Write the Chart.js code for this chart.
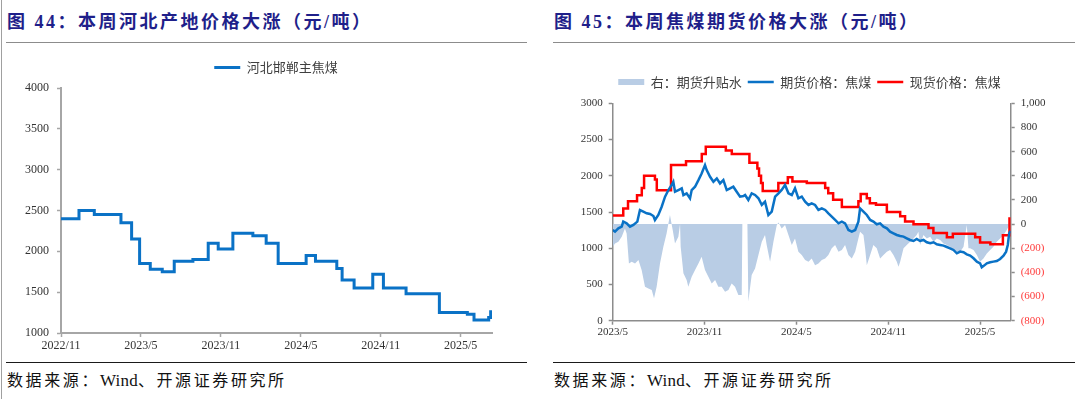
<!DOCTYPE html>
<html>
<head>
<meta charset="utf-8">
<script src="https://cdn.jsdelivr.net/npm/chart.js@4.4.1/dist/chart.umd.min.js"></script>
<style>
  html, body { margin: 0; padding: 0; background: #fff; }
  body { width: 1080px; height: 399px; position: relative; overflow: hidden;
         font-family: "Liberation Serif", "Noto Sans CJK SC", serif; }
  .title { position: absolute; top: 10px; line-height: 24px; font-size: 18px; font-weight: bold;
           color: #1f1f8a; letter-spacing: 2.5px; white-space: nowrap; }
  .rule { position: absolute; height: 0; }
  .src { position: absolute; top: 370px; line-height: 22px; font-size: 16px; color: #111;
         letter-spacing: 2.6px; white-space: nowrap; }
  .src span { letter-spacing: 0.2px; font-size: 17px; }
  canvas { position: absolute; }
</style>
</head>
<body>
<div style="position:absolute;left:1px;top:0;width:0;height:399px;border-left:1px solid #a0a0a0"></div>

<div class="title" style="left:7px">图 44：本周河北产地价格大涨（元/吨）</div>
<div class="title" style="left:554px">图 45：本周焦煤期货价格大涨（元/吨）</div>
<div class="rule" style="left:6px;top:42px;width:521px;border-top:1.5px solid #8c8c8c"></div>
<div class="rule" style="left:553px;top:42px;width:522px;border-top:1.5px solid #8c8c8c"></div>

<canvas id="hebei" width="520" height="310" style="left:0;top:50px"></canvas>
<canvas id="coking" width="535" height="310" style="left:545px;top:50px"></canvas>

<div class="rule" style="left:6px;top:362px;width:521px;border-top:1.5px solid #1a1a1a"></div>
<div class="rule" style="left:553px;top:362px;width:522px;border-top:1.5px solid #1a1a1a"></div>
<div class="src" style="left:7px">数据来源：<span>Wind</span>、开源证券研究所</div>
<div class="src" style="left:554px">数据来源：<span>Wind</span>、开源证券研究所</div>

<script>
// ---------- 图44 data: months since 2022/11, price holds until next change ----------
const hbTickMonths = [0, 6, 12, 18, 24, 30];
const hbTickLabels = ['2022/11', '2023/5', '2023/11', '2024/5', '2024/11', '2025/5'];
const hbMonths = [0, 1.35, 2.5, 4.5, 5.3, 5.9, 6.7, 7.6, 8.5, 9.9, 11.05, 11.8, 12.9, 14.4, 15.4,
                  16.3, 18.4, 19.1, 20.7, 21.1, 22.0, 23.4, 24.2, 25.9, 28.4, 30.5, 31.0, 32.1, 32.25, 32.35];
const hbPrice  = [2400, 2500, 2450, 2350, 2150, 1850, 1780, 1750, 1880, 1900, 2100, 2030, 2220, 2190, 2100,
                  1850, 1950, 1880, 1790, 1650, 1550, 1720, 1550, 1480, 1250, 1230, 1160, 1190, 1260, 1260];

// ---------- 图45 data: months since 2023/5 ----------
const cokTickMonths = [0, 6, 12, 18, 24];
const cokTickLabels = ['2023/5', '2023/11', '2024/5', '2024/11', '2025/5'];

// 现货价格：焦煤 (step changes)
const spotMonths = [0, 0.69, 1.0, 1.59, 1.9, 2.05, 2.76, 2.88, 3.81, 4.79, 5.82, 6.08, 7.39, 7.78, 8.93,
                    9.45, 9.56, 9.69, 9.8, 10.82, 11.44, 11.74, 12.68, 13.88, 14.08, 14.4, 14.97, 16.05, 16.2,
                    16.6, 16.8, 17.2, 17.91, 18.78, 19.1, 19.65, 20.63, 20.95, 21.83, 22.22, 23.68, 24.0,
                    24.67, 25.49, 25.92, 26.0];
const spotPrice  = [1450, 1550, 1650, 1730, 1830, 2000, 1950, 1800, 2150, 2200, 2300, 2400, 2350, 2300, 2180,
                    2100, 2000, 1900, 1790, 1900, 1980, 1920, 1900, 1830, 1760, 1670, 1570, 1650, 1750,
                    1690, 1620, 1600, 1500, 1440, 1370, 1330, 1280, 1210, 1150, 1200, 1150, 1080,
                    1055, 1180, 1410, 1410];

// 期货价格：焦煤 [month, price]
const futures = [
  [0,1252],[0.15,1230],[0.37,1275],[0.59,1298],[0.69,1367],[0.91,1344],[1.13,1298],[1.35,1321],[1.61,1367],
  [1.78,1527],[2.0,1505],[2.22,1482],[2.44,1472],[2.66,1445],[2.76,1390],[2.98,1459],[3.2,1573],[3.42,1711],
  [3.64,1803],[3.85,1872],[3.96,1917],[4.07,1780],[4.29,1803],[4.51,1826],[4.62,1734],[4.83,1757],[5.05,1688],
  [5.16,1803],[5.38,1849],[5.6,1940],[5.81,2032],[6.03,2147],[6.14,2078],[6.36,1986],[6.58,1917],[6.8,1963],
  [7.01,1894],[7.23,1940],[7.45,1803],[7.67,1826],[7.88,1849],[8.1,1780],[8.32,1711],[8.54,1720],[8.65,1735],
  [8.86,1666],[9.08,1758],[9.3,1735],[9.52,1689],[9.74,1597],[9.95,1643],[10.17,1459],[10.39,1505],[10.61,1712],
  [10.83,1758],[11.04,1804],[11.26,1873],[11.48,1758],[11.7,1735],[11.91,1827],[12.13,1689],[12.35,1712],
  [12.57,1643],[12.79,1597],[13.0,1620],[13.22,1597],[13.44,1528],[13.66,1551],[13.88,1528],[14.09,1482],
  [14.31,1436],[14.53,1390],[14.75,1344],[14.97,1367],[15.18,1344],[15.4,1252],[15.62,1229],[15.84,1252],
  [16.05,1367],[16.16,1551],[16.38,1505],[16.6,1459],[16.82,1390],[17.03,1367],[17.25,1330],[17.47,1344],
  [17.69,1298],[17.91,1275],[18.12,1229],[18.34,1206],[18.56,1183],[18.78,1169],[19.0,1160],[19.21,1137],
  [19.43,1114],[19.65,1100],[19.86,1128],[20.08,1100],[20.3,1114],[20.52,1082],[20.74,1068],[20.96,1082],
  [21.17,1054],[21.39,1045],[21.61,1036],[21.83,1017],[22.04,999],[22.26,976],[22.48,930],[22.7,953],
  [22.92,944],[23.13,916],[23.35,898],[23.57,861],[23.79,815],[24.0,792],[24.11,737],[24.26,760],[24.44,792],
  [24.66,806],[24.87,815],[25.09,824],[25.31,852],[25.53,898],[25.7,953],[25.81,1045],[25.9,1206],[25.98,1240]
];

// 右：期货升贴水 [month, value]
const basis = [
  [0,-188],[0.15,-160],[0.37,-146],[0.59,-105],[0.8,-36],[0.91,-77],[1.06,-326],[1.24,-312],[1.46,-326],
  [1.68,-298],[1.89,-381],[2.11,-519],[2.33,-533],[2.55,-546],[2.7,-615],[2.87,-519],[3.09,-326],[3.31,-188],
  [3.52,-77],[3.74,75],[3.92,-50],[4.07,-160],[4.29,-105],[4.4,0],[4.44,-188],[4.62,-408],[4.83,-464],
  [4.94,-519],[5.16,-436],[5.38,-381],[5.6,-326],[5.81,-270],[6.03,-381],[6.25,-436],[6.47,-491],[6.69,-464],
  [6.9,-519],[7.12,-519],[7.34,-560],[7.56,-546],[7.77,-491],[7.99,-519],[8.21,-588],[8.43,-588],[8.47,0],
  [8.8,0],[8.86,-640],[9.08,-422],[9.3,-367],[9.52,-257],[9.74,-146],[9.95,-91],[10.06,-174],[10.28,-312],
  [10.5,-146],[10.72,-8],[10.83,14],[11.04,-36],[11.26,-8],[11.48,-91],[11.7,-174],[11.91,-119],[12.13,-229],
  [12.35,-257],[12.57,-298],[12.79,-312],[13.0,-284],[13.22,-340],[13.44,-326],[13.66,-298],[13.88,-284],
  [14.09,-257],[14.31,-201],[14.53,-174],[14.75,-229],[14.97,-215],[15.18,-174],[15.4,-257],[15.62,-284],
  [15.84,-229],[16.05,-119],[16.16,-63],[16.38,-91],[16.49,-201],[16.6,-340],[16.82,-257],[17.03,-174],
  [17.25,-201],[17.47,-284],[17.69,-257],[17.91,-229],[18.12,-215],[18.34,-257],[18.56,-312],[18.67,-353],
  [18.78,-312],[19.0,-201],[19.21,-174],[19.43,-146],[19.65,-119],[19.86,-91],[19.97,-63],[20.08,-174],
  [20.3,-91],[20.52,-119],[20.74,-105],[20.96,-146],[21.17,-119],[21.39,-132],[21.61,-160],[21.83,-174],
  [22.04,-188],[22.26,-215],[22.48,-229],[22.7,-229],[22.92,-188],[23.13,-8],[23.24,-201],[23.35,-201],
  [23.57,-215],[23.79,-257],[24.0,-312],[24.22,-284],[24.44,-243],[24.66,-215],[24.87,-188],[25.09,-146],
  [25.31,-119],[25.53,-91],[25.74,-50],[25.92,-8]
];

// ---------- shared style ----------
Chart.defaults.font.family = '"Liberation Serif", "Noto Sans CJK SC", serif';
Chart.defaults.color = '#333';
Chart.defaults.animation = false;

const toXY = (xs, ys) => xs.map((x, i) => ({ x, y: ys[i] }));
const pairs = (arr) => arr.map(([x, y]) => ({ x, y }));

// extra space under the legend, and an optional sideways nudge of the legend
const legendTweak = (gap, dx) => ({
  id: 'legendTweak',
  beforeInit(chart) {
    const legend = chart.legend;
    const fit = legend.fit;
    legend.fit = function () { fit.call(legend); this.height += gap; };
    const draw = legend.draw;
    legend.draw = function () {
      const ctx = chart.ctx;
      ctx.save();
      ctx.translate(dx, 0);
      draw.call(legend);
      ctx.restore();
    };
  }
});

function fixedTicks(values, labels) {
  return {
    afterBuildTicks: (axis) => { axis.ticks = values.map(v => ({ value: v })); },
    callback: (v) => labels[values.indexOf(v)]
  };
}

const legendLabels = {
  usePointStyle: true,
  pointStyleWidth: 26,
  boxHeight: 6,
  padding: 6,
  color: '#404040',
  font: { family: '"Noto Sans CJK SC"', size: 13 }
};

const plain = (v) => String(v);

// ---------- 图44 ----------
const hbTicks = fixedTicks(hbTickMonths, hbTickLabels);
new Chart(document.getElementById('hebei'), {
  type: 'line',
  data: {
    datasets: [{
      label: '河北邯郸主焦煤',
      data: toXY(hbMonths, hbPrice),
      borderColor: '#0a72c6',
      backgroundColor: '#0a72c6',
      borderWidth: 3,
      pointRadius: 0,
      pointStyle: 'line',
      stepped: true
    }]
  },
  options: {
    responsive: false,
    devicePixelRatio: 1,
    events: [],
    layout: { padding: { left: 4, right: 28, top: 5, bottom: 0 } },
    plugins: {
      legend: { position: 'top', labels: legendLabels },
      tooltip: { enabled: false }
    },
    scales: {
      x: {
        type: 'linear', min: 0, max: 32.35,
        afterBuildTicks: hbTicks.afterBuildTicks,
        afterFit: (s) => { s.height = 27; },
        ticks: { callback: hbTicks.callback, autoSkip: false, maxRotation: 0, padding: 2,
                 font: { size: 12 }, color: '#333' },
        grid: { drawOnChartArea: false, tickLength: 4, tickColor: '#a6a6a6', tickWidth: 1.5 },
        border: { color: '#a6a6a6', width: 2 }
      },
      y: {
        min: 1000, max: 4000,
        afterFit: (s) => { s.width = 57; },
        ticks: { stepSize: 500, padding: 8, font: { size: 12 }, color: '#333', callback: plain },
        grid: { drawOnChartArea: false, tickLength: 4, tickColor: '#a6a6a6', tickWidth: 1.5 },
        border: { color: '#a6a6a6', width: 2 }
      }
    }
  },
  plugins: [legendTweak(4, 28)]
});

// ---------- 图45 ----------
const cokTicks = fixedTicks(cokTickMonths, cokTickLabels);
new Chart(document.getElementById('coking'), {
  type: 'line',
  data: {
    datasets: [
      {
        label: '右：期货升贴水',
        data: pairs(basis),
        yAxisID: 'y1',
        borderWidth: 0,
        borderColor: 'rgba(0,0,0,0)',
        backgroundColor: '#b9cde5',
        fill: 'origin',
        pointRadius: 0,
        pointStyle: 'rect'
      },
      {
        label: '期货价格：焦煤',
        data: pairs(futures),
        yAxisID: 'y',
        borderColor: '#0a72c6',
        backgroundColor: '#0a72c6',
        borderWidth: 2.5,
        pointRadius: 0,
        pointStyle: 'line'
      },
      {
        label: '现货价格：焦煤',
        data: toXY(spotMonths, spotPrice),
        yAxisID: 'y',
        borderColor: '#ff0000',
        backgroundColor: '#ff0000',
        borderWidth: 2.5,
        pointRadius: 0,
        pointStyle: 'line',
        stepped: true
      }
    ]
  },
  options: {
    responsive: false,
    devicePixelRatio: 1,
    events: [],
    layout: { padding: { left: 10, right: 10, top: 19.5, bottom: 0 } },
    plugins: {
      legend: { position: 'top', labels: legendLabels },
      tooltip: { enabled: false },
      filler: { drawTime: 'beforeDatasetsDraw' }
    },
    scales: {
      x: {
        type: 'linear', min: 0, max: 26,
        afterBuildTicks: cokTicks.afterBuildTicks,
        afterFit: (s) => { s.height = 39.3; },
        ticks: { callback: cokTicks.callback, autoSkip: false, maxRotation: 0, padding: 1,
                 font: { size: 11 }, color: '#333' },
        grid: { drawOnChartArea: false, tickLength: 4, tickColor: '#8c8c8c', tickWidth: 1.5 },
        border: { color: '#8c8c8c', width: 1.5 }
      },
      y: {
        position: 'left', min: 0, max: 3000,
        afterFit: (s) => { s.width = 57.7; },
        ticks: { stepSize: 500, padding: 6, font: { size: 11 }, color: '#333', callback: plain },
        grid: { drawOnChartArea: false, tickLength: 4, tickColor: '#8c8c8c', tickWidth: 1.5 },
        border: { color: '#8c8c8c', width: 1.5 }
      },
      y1: {
        position: 'right', min: -800, max: 1000,
        afterFit: (s) => { s.width = 59.3; },
        ticks: {
          stepSize: 200, padding: 6, font: { size: 11 },
          color: (ctx) => (ctx.tick.value < 0 ? '#ff3b3b' : '#333'),
          callback: (v) => (v < 0 ? '(' + Math.abs(v) + ')' : v.toLocaleString('en-US'))
        },
        grid: { drawOnChartArea: false, tickLength: 4, tickColor: '#8c8c8c', tickWidth: 1.5 },
        border: { color: '#8c8c8c', width: 1.5 }
      }
    }
  },
  plugins: [legendTweak(4.8, -3)]
});
</script>
</body>
</html>
